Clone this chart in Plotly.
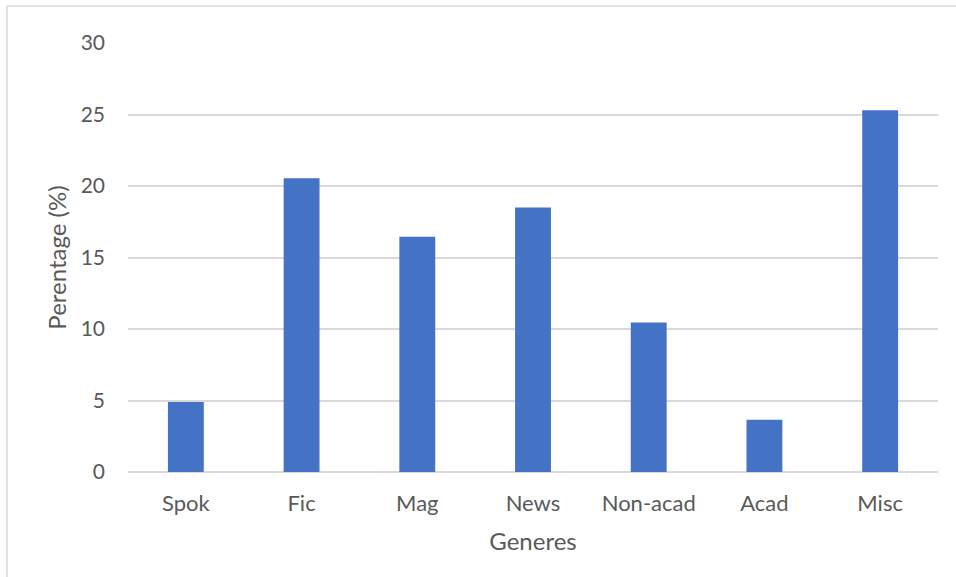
import plotly.graph_objects as go

genres = ["Spok", "Fic", "Mag", "News", "Non-acad", "Acad", "Misc"]
percentages = [4.9, 20.55, 16.45, 18.5, 10.45, 3.65, 25.3]
y_ticks = [0, 5, 10, 15, 20, 25, 30]

fig = go.Figure(go.Bar(
    x=genres, y=percentages,
    marker=dict(color="#4472C4", line=dict(width=0)),
))

font_family = "Lato, Open Sans, sans-serif"
fig.update_layout(
    width=956, height=577,
    margin=dict(l=128, r=18, t=43, b=105),
    paper_bgcolor="white", plot_bgcolor="white",
    bargap=0.69,
    showlegend=False,
    font=dict(family=font_family, color="#595959", size=22),
    xaxis=dict(
        showgrid=False, showline=False, ticks="",
        ticklabelstandoff=16,
        tickfont=dict(size=22, color="#595959"),
        title=dict(text="Generes", font=dict(size=24, color="#595959"), standoff=18),
    ),
    yaxis=dict(
        range=[0, 30], tickvals=y_ticks,
        showgrid=True, gridcolor="#d9d9d9", gridwidth=1.5,
        zeroline=True, zerolinecolor="#d9d9d9", zerolinewidth=1.5,
        showline=False, ticks="", ticklabelstandoff=22,
        tickfont=dict(size=21, color="#595959"),
        title=dict(text="Perentage (%)", font=dict(size=24, color="#595959"), standoff=7),
    ),
    shapes=[
        dict(type="line", xref="paper", yref="paper",
             x0=-121 / 810, x1=1.1, y0=1 + 37 / 429, y1=1 + 37 / 429,
             line=dict(color="#d9d9d9", width=1.5)),
        dict(type="line", xref="paper", yref="paper",
             x0=-121 / 810, x1=-121 / 810, y0=1 + 37 / 429, y1=-0.3,
             line=dict(color="#d9d9d9", width=1.5)),
    ],
)

fig.write_html("out.html")
